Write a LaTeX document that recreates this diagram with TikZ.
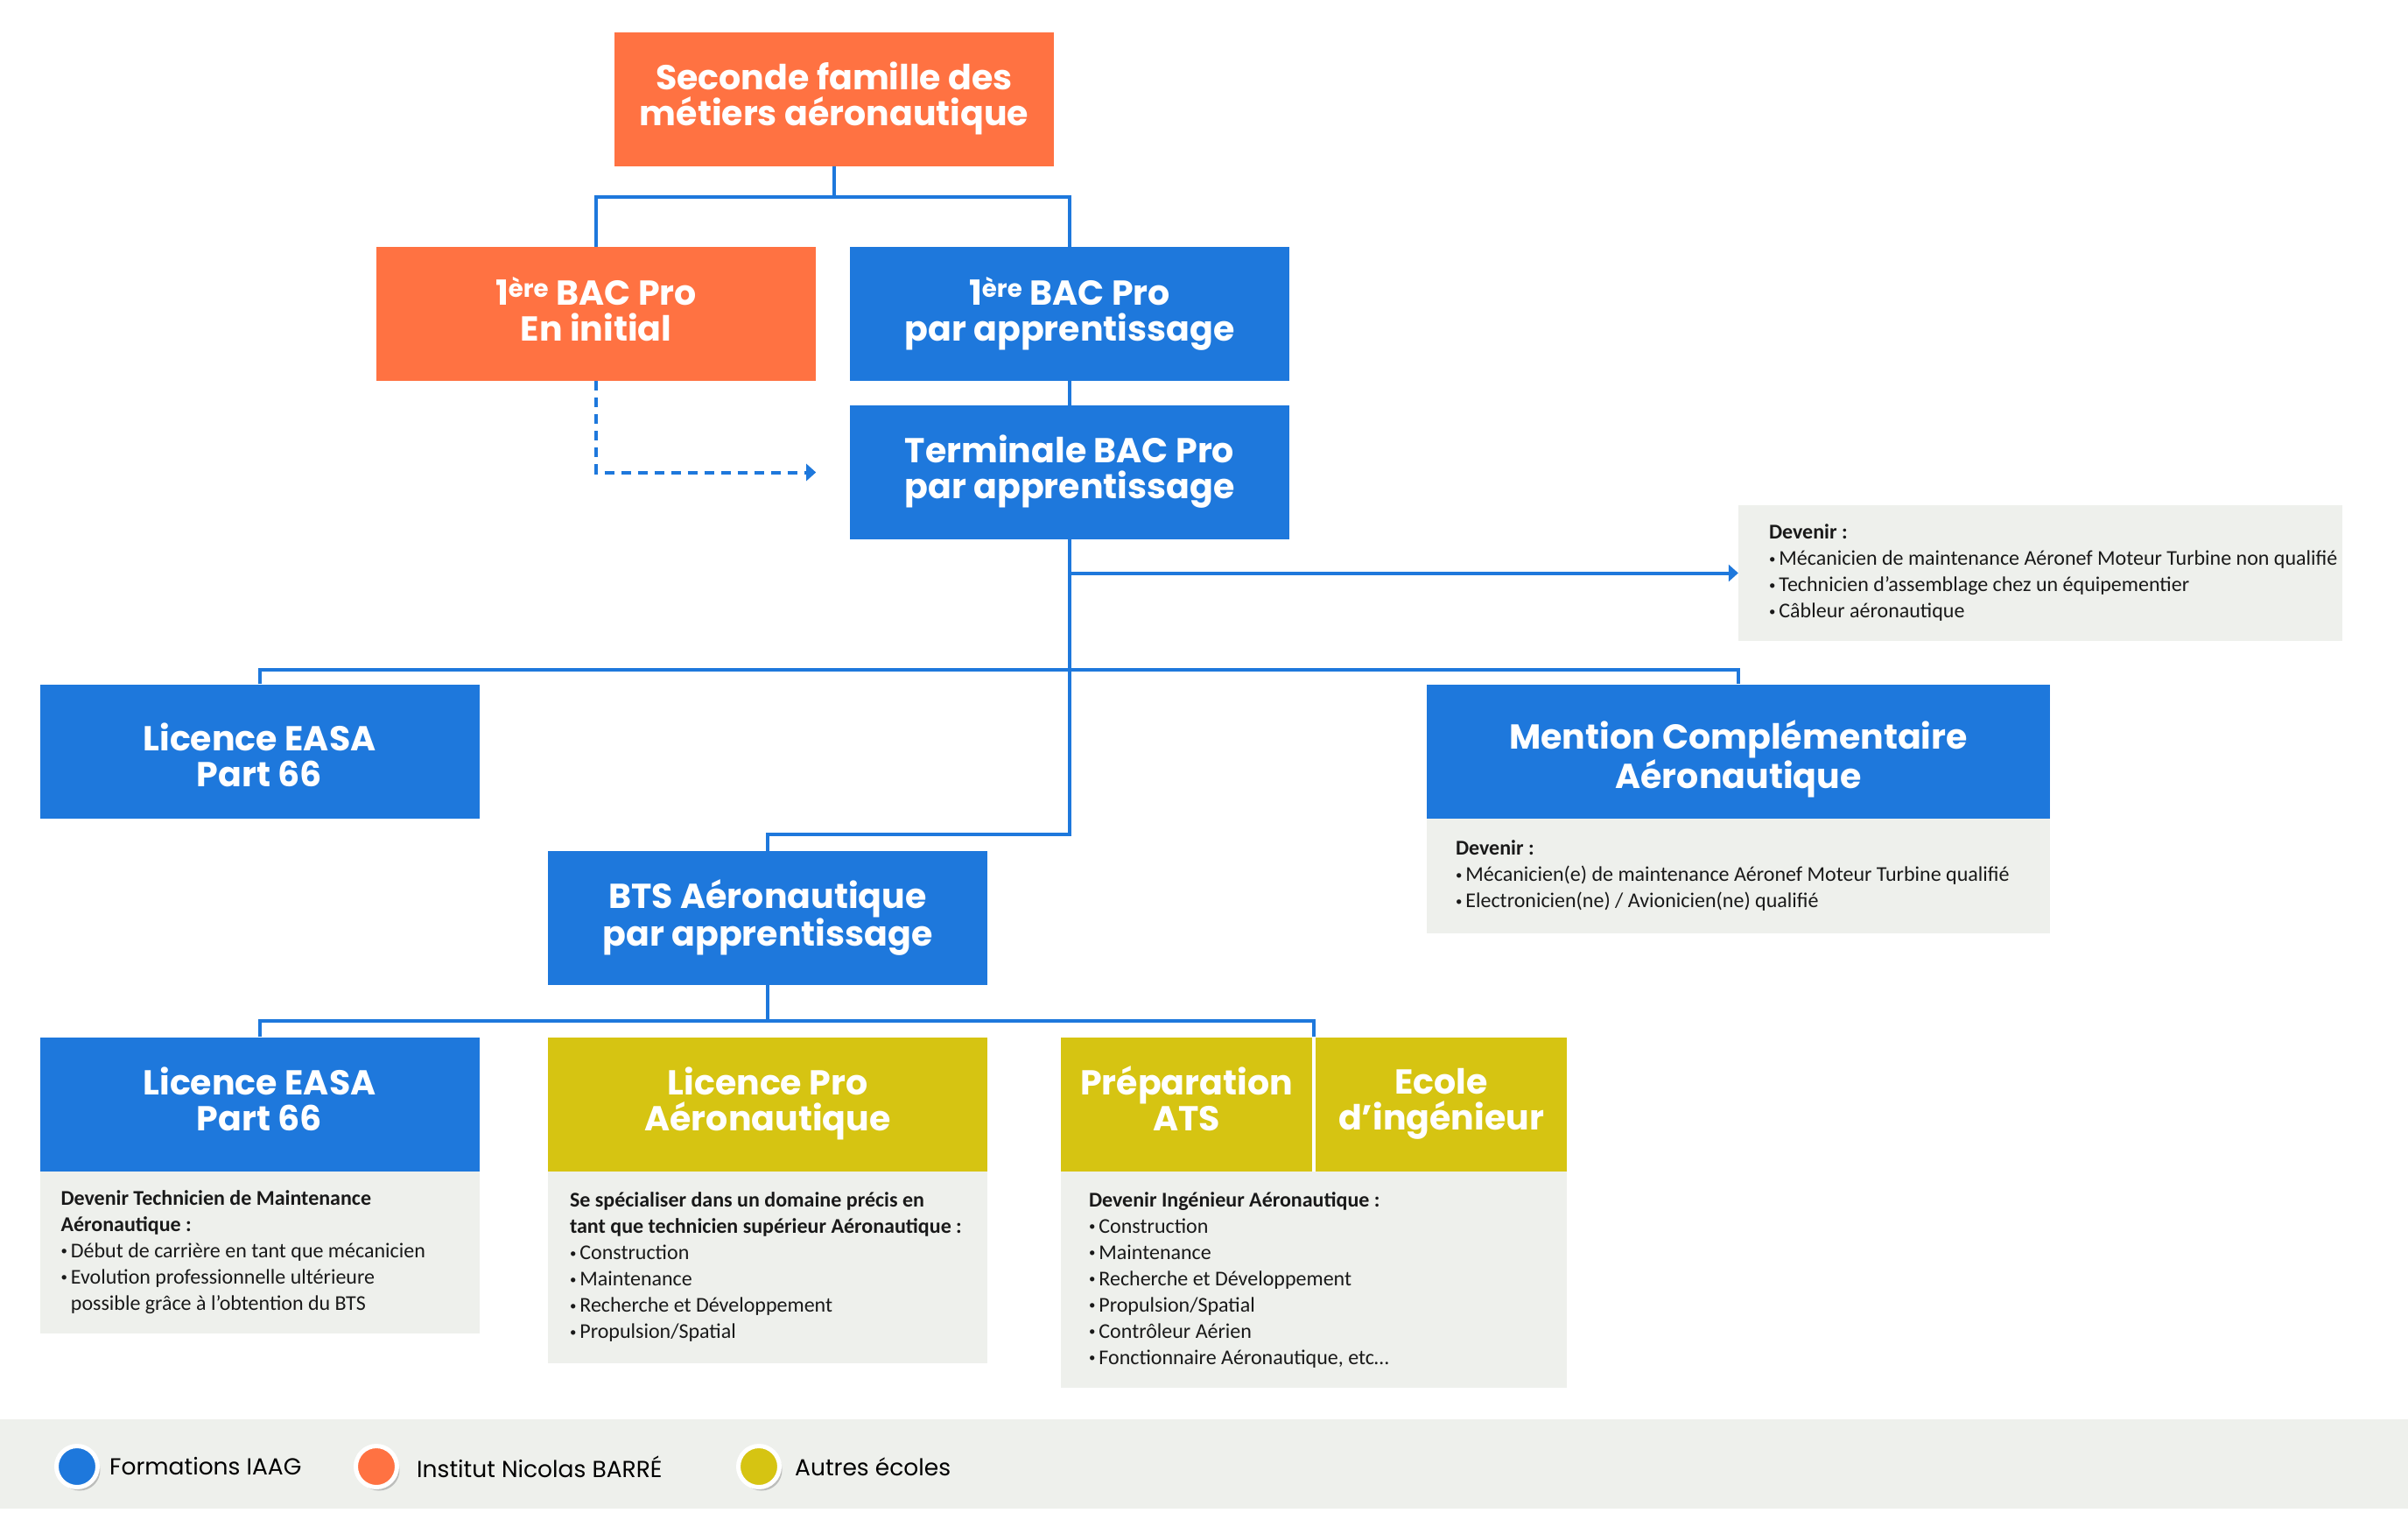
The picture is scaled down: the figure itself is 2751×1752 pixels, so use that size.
\documentclass[tikz,border=0pt]{standalone}
\usepackage{fontspec}
\setmainfont{Carlito}
\newfontfamily\titlefont{Poppins}
\usetikzlibrary{arrows.meta,positioning,shadows}

\definecolor{iaag}{RGB}{30,120,220}
\definecolor{inb}{RGB}{255,114,66}
\definecolor{autre}{RGB}{214,196,18}
\definecolor{fond}{RGB}{238,240,236}

\newcommand{\puce}{\raisebox{.12em}{\scalebox{.62}{\textbullet}}\,}
\newcommand{\retrait}{\phantom{\puce}}
\newcommand{\deux}[3][30pt]{\rule{0pt}{#1}#2\\#3\rule[-12pt]{0pt}{12pt}}

\begin{document}
\begin{tikzpicture}
		[x=1pt,y=-1pt,
		titre/.style={rectangle,minimum width=502pt,minimum height=153pt,inner sep=0pt,align=center,text=white,
			font=\titlefont\bfseries\fontsize{39.5}{41}\selectfont},
		boite iaag/.style={titre,fill=iaag},
		boite inb/.style={titre,fill=inb},
		boite autre/.style={titre,fill=autre,minimum width=287pt},
		cadre/.style={rectangle,fill=fond,inner sep=0pt,anchor=north},
		texte/.style={anchor=west,align=left,inner sep=0pt,text=black!90,font=\fontsize{24}{30}\selectfont},
		lien/.style={draw=iaag,line width=4pt},
		fleche/.style={lien,-{Triangle[length=11pt,width=19pt]}},
		pastille/.style={circle,draw=white,line width=5pt,minimum size=47pt,inner sep=0pt,
			drop shadow={shadow xshift=3pt,shadow yshift=-4pt,opacity=.45}},
		legende/.style={inner sep=0pt,anchor=west,font=\titlefont\fontsize{26.5}{30}\selectfont}]
		
		\fill[white] (0,0) rectangle (2751,1752);
		\useasboundingbox (0,0) rectangle (2751,1752);
		
		\node[boite inb] (seconde) at (953,113.5) {\deux{Seconde famille des}{métiers aéronautique}};
		
		\node[boite inb] (ini) at (681,358.5) {\deux{1\textsuperscript{ère} BAC Pro}{En initial}};
		
		\node[boite iaag] (appr) at (1222,358.5) {\deux{1\textsuperscript{ère} BAC Pro}{par apprentissage}};
		
		\node[boite iaag] (term) at (1222,539.5) {\deux{Terminale BAC Pro}{par apprentissage}}
			edge[lien]	(appr)
		;
		
		\draw[lien] (seconde.south) -- ++(0,35) -| (ini.north);
		\draw[lien] (seconde.south) -- ++(0,35) -| (appr.north);
		\draw[lien,dashed,dash pattern=on 11pt off 8pt,-{Triangle[length=11pt,width=19pt]}] (ini.south) |- (ini.east |- term.west);
		
		% debouches apres le bac
		\node[cadre,minimum width=690pt,minimum height=155pt,anchor=center] (dev1) at (2331,654.5) {};
		\node[texte] (dev1txt) at ([xshift=35pt]dev1.west) {\textbf{Devenir :}\\
			\puce Mécanicien de maintenance Aéronef Moteur Turbine non qualifié\\
			\puce Technicien d’assemblage chez un équipementier\\
			\puce Câbleur aéronautique};
		\draw[fleche] (term.south |- dev1.west) -- (dev1.west);
		
		\node[boite iaag] (easaA) at (296.5,858) {\deux[52pt]{Licence EASA}{Part 66}};
		
		\node[boite iaag,minimum width=712pt] (mention) at (1986,858) {\deux[52pt]{Mention Complémentaire}{Aéronautique}};
		\node[cadre,minimum width=712pt,minimum height=131pt] (mentioninfo) at (mention.south) {};
		\node[texte] (mentiontxt) at ([xshift=33pt]mentioninfo.west) {\textbf{Devenir :}\\
			\puce Mécanicien(e) de maintenance Aéronef Moteur Turbine qualifié\\
			\puce Electronicien(ne) / Avionicien(ne) qualifié};
		
		\coordinate (nb1) at (1222,765);
		\draw[lien] (term.south) -- (nb1);
		\draw[lien] (easaA.north) |- (nb1) -| (mention.north);
		
		\node[boite iaag] (bts) at (877,1048.5) {\deux{BTS Aéronautique}{par apprentissage}};
		\draw[lien] (nb1) -- ++(0,188) -| (bts.north);
		
		% poursuites d'etudes
		\node[boite iaag] (easaB) at (296.5,1261) {\deux{Licence EASA}{Part 66}};
		\node[cadre,minimum width=502pt,minimum height=185pt] (easaBinfo) at (easaB.south) {};
		\node[texte] (easaBtxt) at ([xshift=24pt]easaBinfo.west) {\textbf{Devenir Technicien de Maintenance}\\
			\textbf{Aéronautique :}\\
			\puce Début de carrière en tant que mécanicien\\
			\puce Evolution professionnelle ultérieure\\
			\retrait possible grâce à l’obtention du BTS};
		
		\node[boite autre,minimum width=502pt] (lpro) at (877,1261) {\deux{Licence Pro}{Aéronautique}};
		\node[cadre,minimum width=502pt,minimum height=219pt] (lproinfo) at (lpro.south) {};
		\node[texte] (lprotxt) at ([xshift=25pt]lproinfo.west) {\textbf{Se spécialiser dans un domaine précis en}\\
			\textbf{tant que technicien supérieur Aéronautique :}\\
			\puce Construction\\
			\puce Maintenance\\
			\puce Recherche et Développement\\
			\puce Propulsion/Spatial};
		
		\node[boite autre] (ats) at (1355.5,1261) {\deux{Préparation}{ATS}};
		\node[boite autre] (ecole) at (1646.5,1261) {\deux{Ecole}{d’ingénieur}};
		\node[cadre,minimum width=578pt,minimum height=247pt] (atsinfo) at (1501,1338) {};
		\node[texte] (atstxt) at ([xshift=32pt]atsinfo.west) {\textbf{Devenir Ingénieur Aéronautique :}\\
			\puce Construction\\
			\puce Maintenance\\
			\puce Recherche et Développement\\
			\puce Propulsion/Spatial\\
			\puce Contrôleur Aérien\\
			\puce Fonctionnaire Aéronautique, etc…};
		
		\coordinate (nb2) at (877,1166);
		\coordinate (atsgap) at (1501,1184);
		\draw[lien] (bts.south) -- (nb2);
		\draw[lien] (easaB.north) |- (nb2) -| (atsgap);
		
		% legende
		\node[rectangle,fill=fond,minimum width=2751pt,minimum height=102pt,inner sep=0pt] (bande) at (1375.5,1672) {};
		\node[pastille,fill=iaag] (p1) at (88,1675) {};
		\node[legende,right=11pt of p1] (l1) {Formations IAAG};
		\node[pastille,fill=inb] (p2) at (430,1675) {};
		\node[legende,right=20pt of p2] (l2) {Institut Nicolas BARRÉ};
		\node[pastille,fill=autre] (p3) at (867,1675) {};
		\node[legende,right=15pt of p3] (l3) {Autres écoles};
		
\end{tikzpicture}
\end{document}
